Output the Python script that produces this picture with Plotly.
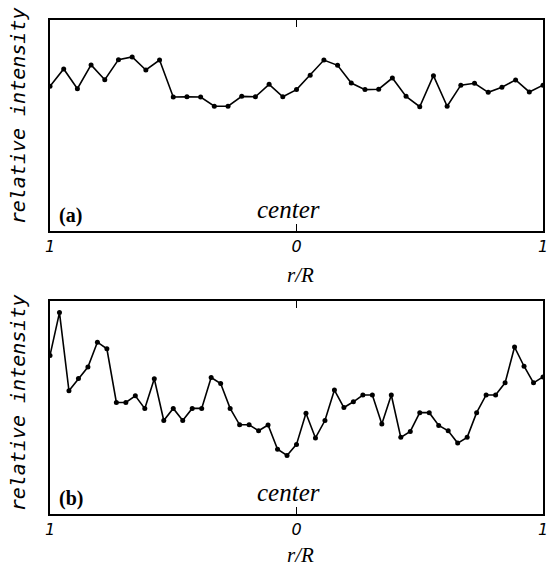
import plotly.graph_objects as go

# Panel (a): 37 samples across the diameter
a_intensity = [68.6, 76.8, 67.4, 78.7, 71.7, 81.2, 82.5, 76.3, 81.0, 63.5,
               63.6, 63.5, 59.1, 59.1, 63.8, 63.6, 69.5, 63.6, 67.0, 73.8,
               81.0, 78.5, 70.1, 67.0, 67.2, 72.5, 63.8, 58.9, 73.6, 59.1,
               69.1, 70.0, 65.7, 68.1, 71.6, 65.9, 69.1]
# Panel (b): 53 samples across the diameter
b_intensity = [74.5, 94.6, 57.9, 63.6, 69.0, 80.7, 77.6, 52.4, 52.4, 55.5,
               49.5, 63.5, 43.9, 49.6, 43.9, 49.6, 49.6, 64.1, 61.3, 49.6,
               41.9, 41.9, 39.1, 41.8, 30.4, 27.5, 32.7, 47.3, 35.7, 43.9,
               58.2, 50.0, 52.7, 55.9, 55.9, 42.3, 55.9, 36.0, 38.8, 47.6,
               47.6, 41.6, 39.1, 33.3, 36.0, 47.6, 55.9, 55.9, 61.6, 78.4,
               69.4, 61.6, 64.4]

a_r = [-1 + 2 * i / (len(a_intensity) - 1) for i in range(len(a_intensity))]
b_r = [-1 + 2 * i / (len(b_intensity) - 1) for i in range(len(b_intensity))]

tick_vals = [-1, 0, 1]
tick_text = ["1", "0", "1"]

fig = go.Figure()
line_style = dict(color="black", width=1.6)
marker_style = dict(color="black", size=5, symbol="circle")
fig.add_trace(go.Scatter(x=a_r, y=a_intensity, mode="lines+markers",
                         line=line_style, marker=marker_style,
                         xaxis="x", yaxis="y", showlegend=False))
fig.add_trace(go.Scatter(x=b_r, y=b_intensity, mode="lines+markers",
                         line=line_style, marker=marker_style,
                         xaxis="x2", yaxis="y2", showlegend=False))

xaxis_common = dict(range=[-1, 1], tickvals=tick_vals, ticktext=tick_text,
                    ticks="inside", ticklen=7, tickwidth=1.2, tickcolor="black",
                    showline=True, linecolor="black", linewidth=1.6,
                    mirror="ticks", showgrid=False, zeroline=False,
                    tickfont=dict(family="DejaVu Sans", size=16, color="black",
                                  style="italic"))
yaxis_common = dict(range=[0, 100], showticklabels=False, ticks="",
                    showline=True, linecolor="black", linewidth=1.6,
                    mirror=True, showgrid=False, zeroline=False)

M_L, M_R, M_T, M_B = 50, 6, 20, 56
fig.update_layout(
    width=554, height=570,
    margin=dict(l=M_L, r=M_R, t=M_T, b=M_B),
    paper_bgcolor="white", plot_bgcolor="white",
    xaxis=dict(domain=[0, 1], anchor="y", **xaxis_common),
    yaxis=dict(domain=[0.573, 1], anchor="x", **yaxis_common),
    xaxis2=dict(domain=[0, 1], anchor="y2", **xaxis_common),
    yaxis2=dict(domain=[0, 0.431], anchor="x2", **yaxis_common),
)

plot_w = 554 - M_L - M_R
plot_h = 570 - M_T - M_B


def px(xp):
    return (xp - M_L) / plot_w


def py(yp):
    return (570 - M_B - yp) / plot_h


serif_it = dict(family="Liberation Serif", size=25, color="black", style="italic")
for yref, label in [("y domain", "(a)"), ("y2 domain", "(b)")]:
    xref = "x domain" if yref == "y domain" else "x2 domain"
    fig.add_annotation(x=0.014, y=0.075, xref=xref, yref=yref,
                       text="<b>" + label + "</b>",
                       showarrow=False, xanchor="left", yanchor="middle",
                       font=dict(family="Liberation Serif", size=20, color="black"))
    fig.add_annotation(x=0.484, y=0.1, xref=xref, yref=yref, text="center",
                       showarrow=False, xanchor="center", yanchor="middle",
                       font=serif_it)

for yc in [275, 555]:
    fig.add_annotation(x=px(303), y=py(yc), xref="paper", yref="paper", text="r/R",
                       showarrow=False, xanchor="center", yanchor="middle",
                       borderpad=0,
                       font=dict(family="Liberation Serif", size=21, color="black",
                                 style="italic"))
for yc in [116, 403]:
    fig.add_annotation(x=px(18), y=py(yc), xref="paper", yref="paper",
                       text="relative intensity", textangle=-90,
                       showarrow=False, xanchor="center", yanchor="middle",
                       font=dict(family="DejaVu Sans Mono", size=20, color="black",
                                 style="italic"))

fig.write_html("out.html")
